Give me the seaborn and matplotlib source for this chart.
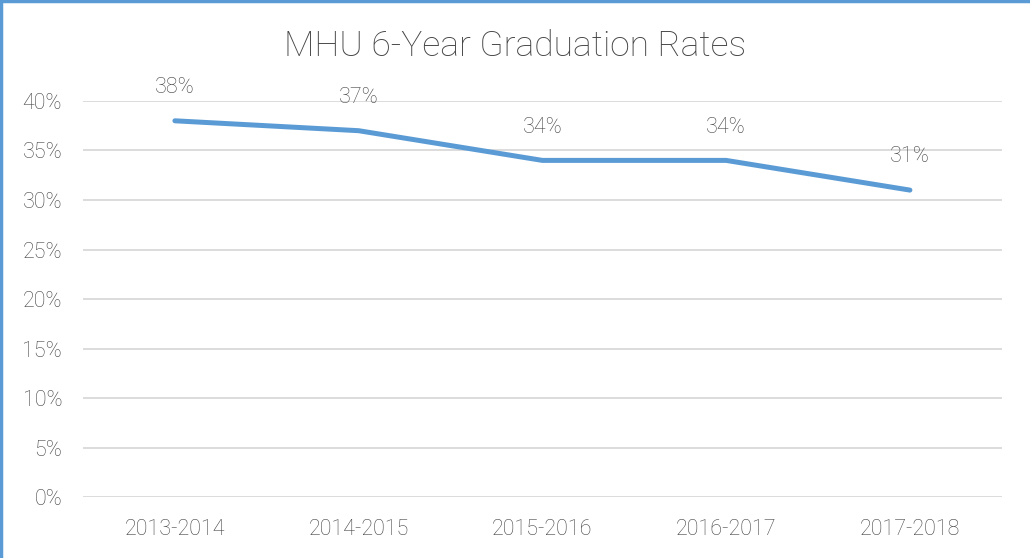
import pandas as pd
import numpy as np
import matplotlib.pyplot as plt
import seaborn as sns
from matplotlib.ticker import FuncFormatter

# data
years = ['2013-2014', '2014-2015', '2015-2016', '2016-2017', '2017-2018']
rates = [38, 37, 34, 34, 31]

df = pd.DataFrame({'year': years, 'rate': rates})

sns.set_theme(style='white')
plt.rcParams['font.family'] = ['Roboto', 'DejaVu Sans']

fig = plt.figure(figsize=(10.3, 5.58), dpi=100)
ax = fig.add_axes([0.0806, 0.1093, 0.892, 0.7097])

sns.lineplot(data=df, x='year', y='rate', ax=ax, color='#5B9BD5',
             linewidth=3.6, sort=False)

# data labels
for i, v in enumerate(rates):
    ax.annotate(f'{v}%', (i, v), xytext=(0, 24), textcoords='offset points',
                ha='center', va='center', fontsize=15.5, color='#444444',
                fontweight='light')

ax.set_ylim(0, 40)
ax.set_xlim(-0.5, len(years) - 0.5)
ax.set_yticks(np.arange(0, 41, 5))
ax.yaxis.set_major_formatter(FuncFormatter(lambda v, p: f'{v:.0f}%'))
ax.grid(axis='y', color='#D9D9D9', linewidth=1.3)
ax.set_axisbelow(True)
for s in ax.spines.values():
    s.set_visible(False)
ax.tick_params(axis='both', length=0, labelsize=15.5, labelcolor='#444444')
ax.tick_params(axis='x', pad=16)
ax.tick_params(axis='y', pad=15)
for lbl in ax.get_xticklabels() + ax.get_yticklabels():
    lbl.set_fontweight('light')
ax.set_xlabel('')
ax.set_ylabel('')

fig.text(0.5, 0.918, 'MHU 6-Year Graduation Rates', ha='center', va='center',
         fontsize=25.5, color='#444444', fontweight='light')

# blue chart border on left and top edges
fig.add_artist(plt.Line2D([0.001, 0.001], [0, 1], color='#5B9BD5', linewidth=2.5,
                          transform=fig.transFigure))
fig.add_artist(plt.Line2D([0, 1], [0.998, 0.998], color='#5B9BD5', linewidth=2.5,
                          transform=fig.transFigure))

fig.savefig('out.png', dpi=100)
